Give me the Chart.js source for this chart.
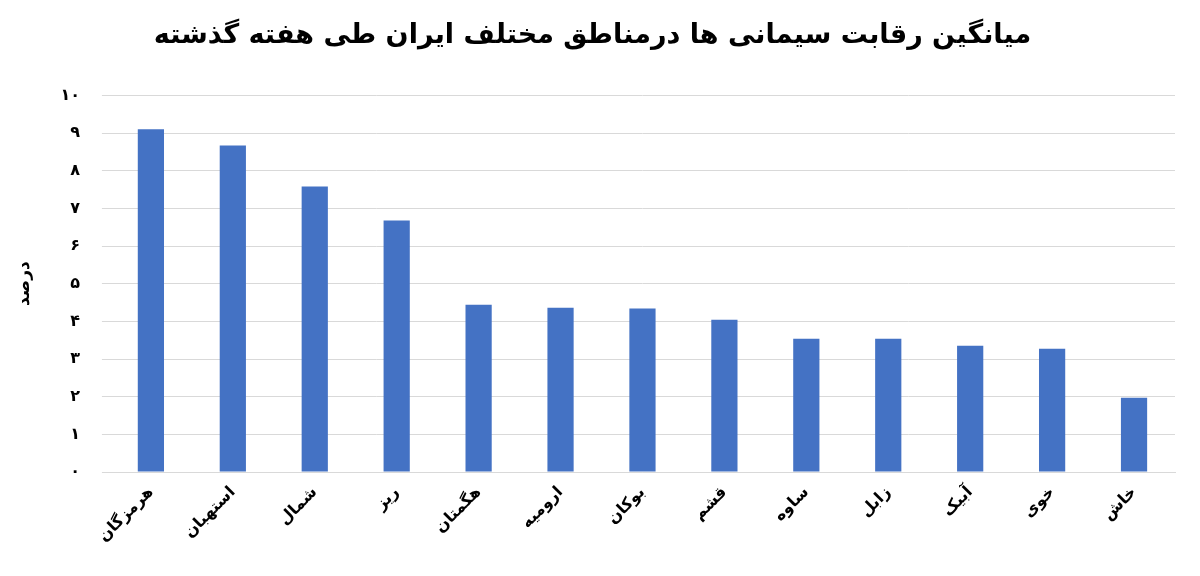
<!DOCTYPE html>
<html>
<head>
<meta charset="utf-8">
<script src="https://cdn.jsdelivr.net/npm/chart.js@4"></script>
<style>
  body { margin: 0; background: #fff; }
  #wrap { width: 1200px; height: 576px; }
</style>
</head>
<body>
<div id="wrap"><canvas id="chart"></canvas></div>
<script>
var categories = ['هرمزگان', 'استهبان', 'شمال', 'ریز', 'هگمتان', 'ارومیه', 'بوکان', 'قشم', 'ساوه', 'زابل', 'آبیک', 'خوی', 'خاش'];
var values = [9.1, 8.67, 7.58, 6.68, 4.44, 4.36, 4.34, 4.04, 3.54, 3.54, 3.35, 3.27, 1.97];
var tickLabels = ['۰', '۱', '۲', '۳', '۴', '۵', '۶', '۷', '۸', '۹', '۱۰'];

var fontFamily = '"DejaVu Sans", sans-serif';

new Chart(document.getElementById('chart'), {
    type: 'bar',
    data: {
        labels: categories,
        datasets: [{
            data: values,
            backgroundColor: '#4472c4',
            barPercentage: 0.32,
            categoryPercentage: 1
        }]
    },
    options: {
        responsive: true,
        maintainAspectRatio: false,
        animation: false,
        layout: { padding: { left: 10, right: 25, top: 12, bottom: 27 } },
        plugins: {
            legend: { display: false },
            tooltip: { enabled: false },
            title: {
                display: true,
                text: 'میانگین رقابت سیمانی ها درمناطق مختلف ایران طی هفته گذشته',
                color: '#000',
                font: { family: fontFamily, size: 27, weight: 'bold' },
                padding: { top: 8, bottom: 43 }
            }
        },
        scales: {
            x: {
                grid: { display: false },
                border: { color: '#d9d9d9' },
                ticks: {
                    color: '#000',
                    maxRotation: 45,
                    minRotation: 45,
                    font: { family: fontFamily, size: 16, weight: 'bold' }
                }
            },
            y: {
                min: 0,
                max: 10,
                ticks: {
                    stepSize: 1,
                    color: '#000',
                    padding: 22,
                    font: { family: fontFamily, size: 16, weight: 'bold' },
                    callback: function (v) { return tickLabels[v]; }
                },
                grid: { color: '#d9d9d9' },
                border: { display: false },
                title: {
                    display: true,
                    text: 'درصد',
                    color: '#000',
                    font: { family: fontFamily, size: 17, weight: 'bold' }
                }
            }
        }
    }
});
</script>
</body>
</html>
